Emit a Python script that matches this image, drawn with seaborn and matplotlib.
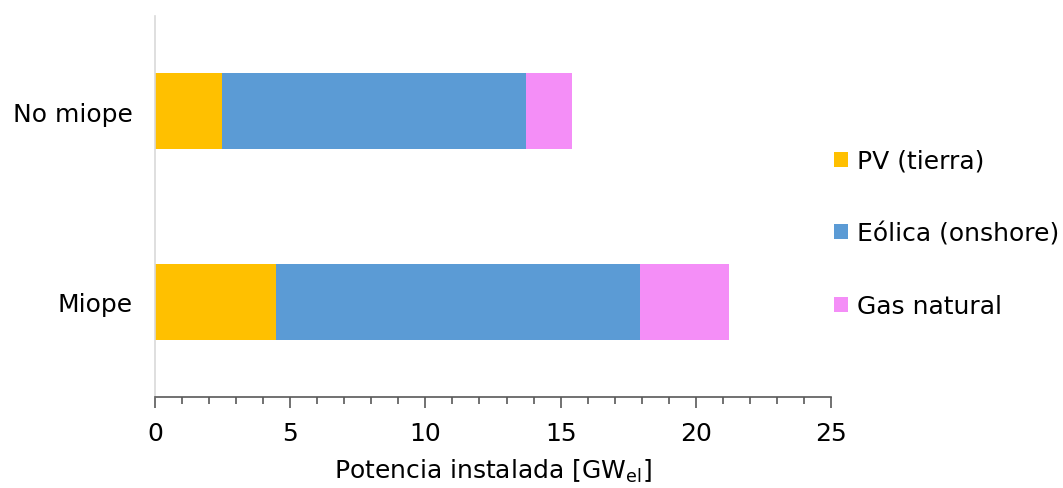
import matplotlib
matplotlib.use("Agg")
import matplotlib.pyplot as plt
from matplotlib.patches import Patch
from matplotlib.ticker import MultipleLocator
import numpy as np
import pandas as pd
import seaborn as sns

# Installed capacity per scenario [GW_el]
escenarios = ["No miope", "Miope"]
pv_tierra = [2.48, 4.47]
eolica_onshore = [11.24, 13.47]
gas_natural = [1.70, 3.29]

series = ["PV (tierra)", "Eólica (onshore)", "Gas natural"]
colores = ["#FFC000", "#5B9BD5", "#F48EF7"]

sns.set_theme(style="white")
plt.rcParams["font.family"] = ["DejaVu Sans"]
plt.rcParams["mathtext.default"] = "regular"
plt.rcParams["text.color"] = "black"
plt.rcParams["axes.labelcolor"] = "black"
plt.rcParams["xtick.labelcolor"] = "black"
plt.rcParams["ytick.labelcolor"] = "black"

df = pd.DataFrame({
    "escenario": escenarios,
    "PV (tierra)": pv_tierra,
    "Eólica (onshore)": eolica_onshore,
    "Gas natural": gas_natural,
})
acum = df[series].cumsum(axis=1)

fig = plt.figure(figsize=(10.63, 4.89), dpi=100)
ax = fig.add_axes([0.1458, 0.1861, 0.6360, 0.7791])

# Stacked bars: draw cumulative totals from the outermost segment inwards
for serie, color in reversed(list(zip(series, colores))):
    sns.barplot(x=acum[serie], y=df["escenario"], orient="h", color=color,
                width=0.4, saturation=1, ax=ax, order=escenarios,
                linewidth=0, edgecolor="none")

ax.set_xlim(0, 25)
ax.set_ylim(1.5, -0.5)
ax.xaxis.set_major_locator(MultipleLocator(5))
ax.xaxis.set_minor_locator(MultipleLocator(1))
ax.tick_params(axis="x", which="major", direction="out", length=8, width=1.2,
               color="#595959", labelsize=18, pad=9, bottom=True)
ax.tick_params(axis="x", which="minor", direction="out", length=5, width=1.2,
               color="#595959", bottom=True)
ax.tick_params(axis="y", length=0, labelsize=18, pad=16)

for side in ["top", "right"]:
    ax.spines[side].set_visible(False)
ax.spines["bottom"].set_color("#595959")
ax.spines["bottom"].set_linewidth(1.2)
ax.spines["left"].set_color("#D9D9D9")
ax.spines["left"].set_linewidth(1.2)

ax.set_ylabel("")
ax.set_xlabel("Potencia instalada [GW$_{el}$]", fontsize=18, labelpad=9)

handles = [Patch(facecolor=c, edgecolor="none", label=s) for s, c in zip(series, colores)]
fig.legend(handles=handles, loc="center left", bbox_to_anchor=(0.785, 0.52),
           frameon=False, fontsize=18, handlelength=0.55, handleheight=0.55,
           handletextpad=0.36, labelspacing=1.95, borderaxespad=0,
           borderpad=0)

fig.savefig("out.png", dpi=100, facecolor="white")
